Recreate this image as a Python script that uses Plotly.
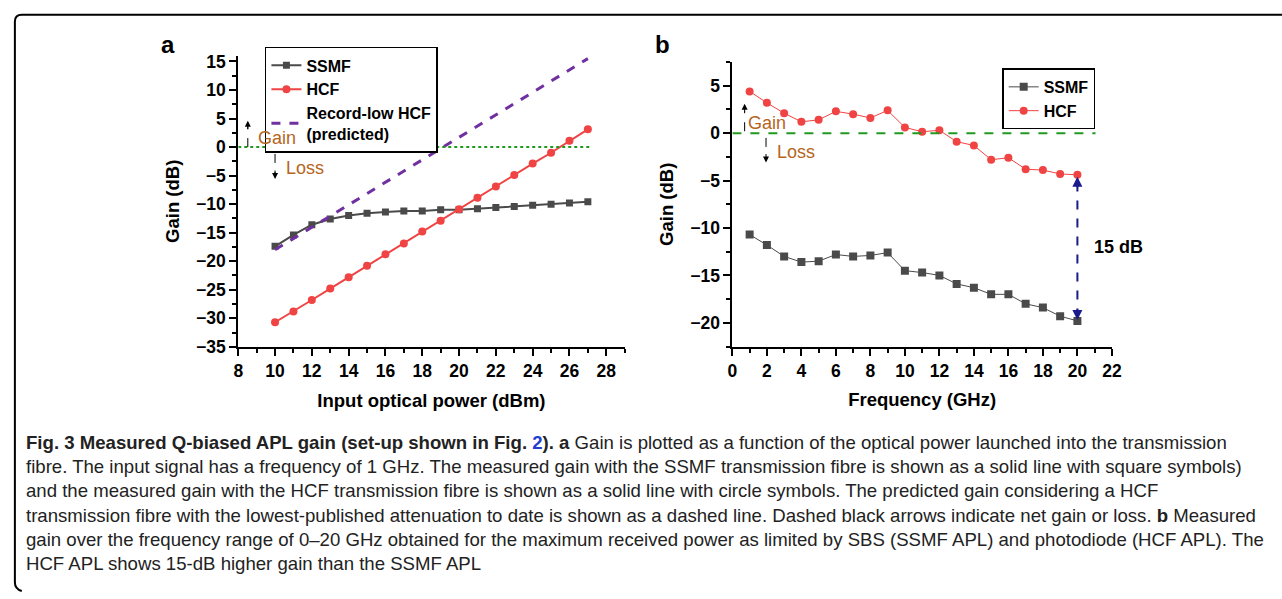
import plotly.graph_objects as go

# ---------------- data ----------------
# Panel a: gain vs input optical power
power_dbm = [10, 11, 12, 13, 14, 15, 16, 17, 18, 19, 20, 21, 22, 23, 24, 25, 26, 27]
ssmf_gain_a = [-17.4, -15.4, -13.6, -12.6, -12.0, -11.6, -11.4, -11.2, -11.2, -11.0,
               -11.0, -10.8, -10.6, -10.4, -10.2, -10.0, -9.8, -9.6]
hcf_gain_a = [-30.7, -28.8, -26.8, -24.8, -22.8, -20.8, -18.8, -16.9, -14.8, -12.9,
              -10.9, -8.9, -6.9, -4.9, -2.9, -1.0, 1.1, 3.1]
pred_power = [10, 27]
pred_gain = [-18.0, 15.5]

# Panel b: gain vs frequency
freq_ghz = [1, 2, 3, 4, 5, 6, 7, 8, 9, 10, 11, 12, 13, 14, 15, 16, 17, 18, 19, 20]
hcf_gain_b = [4.4, 3.2, 2.1, 1.2, 1.4, 2.3, 2.0, 1.6, 2.4, 0.6, 0.15, 0.3,
              -0.9, -1.3, -2.8, -2.6, -3.8, -3.9, -4.3, -4.4]
ssmf_gain_b = [-10.7, -11.8, -13.0, -13.6, -13.5, -12.8, -13.0, -12.9, -12.6, -14.5,
               -14.7, -15.0, -15.9, -16.3, -17.0, -17.0, -18.0, -18.4, -19.3, -19.8]

caption_lines = [
    "<b>Fig. 3 Measured Q-biased APL gain (set-up shown in Fig. <span style='color:#1f3fcf'>2</span>). a</b> Gain is plotted as a function of the optical power launched into the transmission",
    "fibre. The input signal has a frequency of 1 GHz. The measured gain with the SSMF transmission fibre is shown as a solid line with square symbols)",
    "and the measured gain with the HCF transmission fibre is shown as a solid line with circle symbols. The predicted gain considering a HCF",
    "transmission fibre with the lowest-published attenuation to date is shown as a dashed line. Dashed black arrows indicate net gain or loss. <b>b</b> Measured",
    "gain over the frequency range of 0–20 GHz obtained for the maximum received power as limited by SBS (SSMF APL) and photodiode (HCF APL). The",
    "HCF APL shows 15-dB higher gain than the SSMF APL",
]

# ---------------- styling ----------------
W, H = 1282, 599
def px(x):
    return x / W
def py(y):
    return 1 - y / H

FONT = "Liberation Sans, Arial, sans-serif"
GRAY = "#4a4a4a"
RED = "#f04343"
PURPLE = "#7030a0"
GREEN = "#1f9a1f"
BROWN = "#b5651d"
NAVY = "#1a1a8c"

fig = go.Figure()

# Panel a traces
fig.add_trace(go.Scatter(x=power_dbm, y=ssmf_gain_a, name="SSMF", mode="lines+markers",
                         line=dict(color=GRAY, width=2), marker=dict(symbol="square", size=7, color=GRAY),
                         xaxis="x", yaxis="y", legend="legend"))
fig.add_trace(go.Scatter(x=power_dbm, y=hcf_gain_a, name="HCF", mode="lines+markers",
                         line=dict(color=RED, width=2), marker=dict(symbol="circle", size=8, color=RED),
                         xaxis="x", yaxis="y", legend="legend"))
fig.add_trace(go.Scatter(x=pred_power, y=pred_gain, name="Record-low HCF<br>(predicted)", mode="lines",
                         line=dict(color=PURPLE, width=3, dash="dash"),
                         xaxis="x", yaxis="y", legend="legend"))

# Panel b traces
fig.add_trace(go.Scatter(x=freq_ghz, y=ssmf_gain_b, name="SSMF", mode="lines+markers",
                         line=dict(color=GRAY, width=1), marker=dict(symbol="square", size=8, color=GRAY),
                         xaxis="x2", yaxis="y2", legend="legend2"))
fig.add_trace(go.Scatter(x=freq_ghz, y=hcf_gain_b, name="HCF", mode="lines+markers",
                         line=dict(color=RED, width=1), marker=dict(symbol="circle", size=8, color=RED),
                         xaxis="x2", yaxis="y2", legend="legend2"))

axis_common = dict(showline=True, linecolor="black", linewidth=2, ticks="outside", ticklen=7,
                   tickwidth=2, tickcolor="black", showgrid=False, zeroline=False,
                   tickfont=dict(family=FONT, size=17.5, color="black", weight="bold"),
                   title_font=dict(family=FONT, size=18.5, color="black", weight="bold"),
                   minor=dict(ticks="outside", ticklen=4, tickwidth=1.5, tickcolor="black"))

fig.update_layout(
    width=W, height=H, margin=dict(l=0, r=0, t=0, b=0),
    paper_bgcolor="white", plot_bgcolor="white",
    font=dict(family=FONT, color="black"),
    xaxis=dict(axis_common, domain=[px(236), px(627)], range=[8, 29], dtick=2, tick0=8,
               minor_dtick=1, anchor="y", title=dict(text="Input optical power (dBm)", standoff=14)),
    yaxis=dict(axis_common, domain=[py(351), py(53)], range=[-35, 16], dtick=5, tick0=0,
               minor_dtick=2.5, anchor="x", title=dict(text="Gain (dB)", standoff=12)),
    xaxis2=dict(axis_common, domain=[px(736), px(1120)], range=[0, 22], dtick=2, tick0=0,
                minor_dtick=1, anchor="y2", title=dict(text="Frequency (GHz)", standoff=14)),
    yaxis2=dict(axis_common, domain=[py(350.7), py(59.4)], range=[-22.5, 7.5], dtick=5, tick0=0,
                minor_dtick=2.5, anchor="x2", title=dict(text="Gain (dB)", standoff=12)),
    legend=dict(x=px(263), y=py(44), xanchor="left", yanchor="top", bordercolor="black",
                borderwidth=1.5, bgcolor="white", tracegroupgap=0,
                font=dict(family=FONT, size=16, color="black", weight="bold")),
    legend2=dict(x=px(1009), y=py(66), xanchor="left", yanchor="top", bordercolor="black",
                 borderwidth=1.5, bgcolor="white", tracegroupgap=0,
                 font=dict(family=FONT, size=16, color="black", weight="bold")),
)

shapes = []
# zero lines
shapes.append(dict(type="line", xref="x", yref="y", x0=8, x1=27.2, y0=0, y1=0,
                   line=dict(color=GREEN, width=2, dash="dot")))
shapes.append(dict(type="line", xref="x2", yref="y2", x0=0, x1=21.05, y0=0, y1=0,
                   line=dict(color=GREEN, width=2, dash="dash")))
# gain/loss dashed stems panel a
shapes.append(dict(type="line", xref="x", yref="y", x0=8.52, x1=8.52, y0=0, y1=3.6,
                   line=dict(color="black", width=1, dash="dash")))
shapes.append(dict(type="line", xref="x", yref="y", x0=10.0, x1=10.0, y0=-1.2, y1=-4.8,
                   line=dict(color="black", width=1, dash="dash")))
# panel b
shapes.append(dict(type="line", xref="x2", yref="y2", x0=0.71, x1=0.71, y0=0.2, y1=2.3,
                   line=dict(color="black", width=1, dash="dash")))
shapes.append(dict(type="line", xref="x2", yref="y2", x0=1.95, x1=1.95, y0=-0.5, y1=-2.4,
                   line=dict(color="black", width=1, dash="dash")))
# 15 dB double arrow stem
shapes.append(dict(type="line", xref="x2", yref="y2", x0=20, x1=20, y0=-5.2, y1=-19.1,
                   line=dict(color=NAVY, width=2, dash="dash")))
# rounded figure border (left + top)
r = 7
path = (f"M {px(1300)},{py(11)} L {px(10 + r)},{py(11)} Q {px(10)},{py(11)} {px(10)},{py(11 + r)} "
        f"L {px(10)},{py(592)} Q {px(10)},{py(599)} {px(17)},{py(601)}")
shapes.append(dict(type="path", xref="paper", yref="paper", path=path,
                   line=dict(color="black", width=2)))
fig.update_layout(shapes=shapes)

ann = []
def head(x, y, xr, yr, ay, color="black", w=1, size=1.2):
    ann.append(dict(x=x, y=y, xref=xr, yref=yr, ax=0, ay=ay, text="", showarrow=True,
                    arrowhead=2, arrowsize=size, arrowwidth=w, arrowcolor=color, standoff=0))

head(8.52, 4.6, "x", "y", 10)
head(10.0, -5.6, "x", "y", -10)
head(0.71, 3.1, "x2", "y2", 10)
head(1.95, -3.1, "x2", "y2", -10)
head(20, -4.6, "x2", "y2", 12, NAVY, 2, 1)
head(20, -19.7, "x2", "y2", -12, NAVY, 2, 1)

txt_font = dict(family=FONT, size=18, color=BROWN)
ann.append(dict(x=10.11, y=1.6, xref="x", yref="y", text="Gain", showarrow=False, font=txt_font))
ann.append(dict(x=11.63, y=-3.7, xref="x", yref="y", text="Loss", showarrow=False, font=txt_font))
ann.append(dict(x=1.99, y=1.05, xref="x2", yref="y2", text="Gain", showarrow=False, font=txt_font))
ann.append(dict(x=3.69, y=-1.94, xref="x2", yref="y2", text="Loss", showarrow=False, font=txt_font))
ann.append(dict(x=20.85, y=-12.0, xref="x2", yref="y2", text="<b>15 dB</b>", showarrow=False,
                xanchor="left", font=dict(family=FONT, size=18, color="black")))

# panel labels
ann.append(dict(x=px(165), y=py(41), xref="paper", yref="paper", text="<b>a</b>", showarrow=False,
                xanchor="center", yanchor="middle", font=dict(family=FONT, size=24, color="black")))
ann.append(dict(x=px(665), y=py(41), xref="paper", yref="paper", text="<b>b</b>", showarrow=False,
                xanchor="center", yanchor="middle", font=dict(family=FONT, size=24, color="black")))

# caption
ann.append(dict(x=px(19), y=py(436), xref="paper", yref="paper", xanchor="left", yanchor="top",
                align="left", showarrow=False, text="<br>".join(caption_lines),
                font=dict(family=FONT, size=18.6, color="#222222")))
fig.update_layout(annotations=ann)

fig.write_html("out.html")
